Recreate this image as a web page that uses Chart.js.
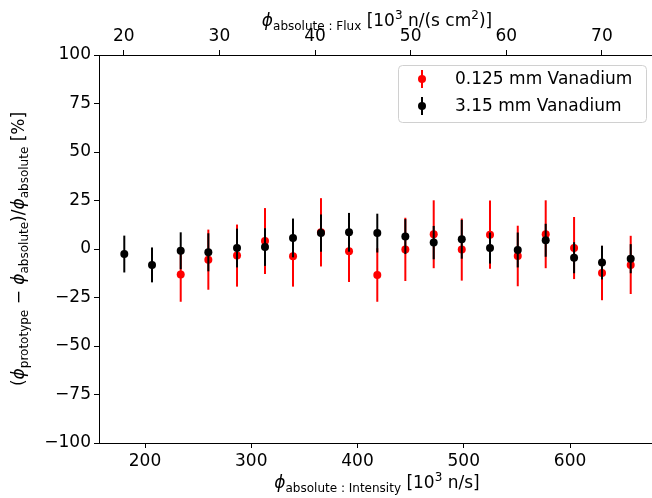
<!DOCTYPE html>
<html lang="en">
<head>
    <meta charset="UTF-8">
    <title>Prototype vs absolute flux</title>
    <script src="https://cdn.jsdelivr.net/npm/chart.js"></script>
    <style>
        body { margin: 0; overflow: hidden; background: #fff; }
        #chartWrap { width: 660px; height: 498px; }
    </style>
</head>
<body>

    <div id="chartWrap"><canvas id="errChart" width="660" height="498"></canvas></div>

    <script type='text/javascript'>
    // intensity values [10^3 n/s] of the measurement points
    const intensity = [180.5, 206.6, 233.6, 259.6, 286.6, 312.9, 339.3, 365.6, 392.0, 418.6,
                       445.0, 471.7, 498.1, 524.7, 550.8, 577.1, 603.8, 630.1, 657.1];

    // 0.125 mm Vanadium starts at the third point
    const thinLabel = '0.125 mm Vanadium';
    const thinVals = [-13.2, -5.5, -3.4, 4.1, -3.8, 8.6, -1.2, -13.4, -0.2, 7.6, -0.3, 7.4, -3.6, 7.6, 0.5, -12.4, -8.2];
    const thinErr  = [14.0, 15.5, 16.0, 17.0, 15.6, 17.6, 15.8, 13.8, 16.3, 17.5, 16.0, 17.6, 15.6, 17.5, 16.0, 14.0, 15.0];

    const thickLabel = '3.15 mm Vanadium';
    const thickVals = [-2.6, -8.2, -0.9, -1.7, 0.5, 1.0, 5.7, 8.2, 8.6, 8.2, 6.4, 3.3, 5.0, 0.5, -0.5, 4.5, -4.5, -7.0, -5.0];
    const thickErr  = [9.5, 9.0, 9.5, 9.8, 10.0, 9.7, 10.0, 9.6, 10.0, 10.0, 9.0, 8.6, 10.0, 8.0, 9.0, 8.5, 8.0, 8.7, 7.5];

    const yTicks = [-100, -75, -50, -25, 0, 25, 50, 75, 100];
    const fluxFactor = 9;          // intensity / flux
    const xMin = 156.7, xMax = 680.9;

    const FONT = "'DejaVu Sans', sans-serif";

    function points(xs, ys) {
        return ys.map((y, i) => ({ x: xs[i], y: y }));
    }

    // error bars, drawn just before each dataset's markers
    const errorBars = {
        id: 'errorBars',
        beforeDatasetDraw(chart, args) {
            const ds = chart.data.datasets[args.index];
            if (!ds.errors) return;
            const xs = chart.scales.x, ys = chart.scales.y, ctx = chart.ctx;
            ctx.save();
            ctx.strokeStyle = ds.borderColor;
            ctx.lineWidth = 2;
            ds.data.forEach((p, i) => {
                const px = xs.getPixelForValue(p.x);
                ctx.beginPath();
                ctx.moveTo(px, ys.getPixelForValue(p.y + ds.errors[i]));
                ctx.lineTo(px, ys.getPixelForValue(p.y - ds.errors[i]));
                ctx.stroke();
            });
            ctx.restore();
        }
    };

    // text with sub/superscripts, segments: [text, kind]
    function richText(ctx, segs, x, y) {
        const size = 17, small = 12;
        const parts = segs.map(([t, kind]) => {
            let font = size + 'px ' + FONT, dy = 0;
            if (kind === 'i') font = 'oblique ' + size + 'px ' + FONT;
            if (kind === 'sub') { font = small + 'px ' + FONT; dy = 4; }
            if (kind === 'sup') { font = small + 'px ' + FONT; dy = -7; }
            ctx.font = font;
            return { t, font, dy, w: ctx.measureText(t).width };
        });
        const total = parts.reduce((s, p) => s + p.w, 0);
        let cx = x - total / 2;
        ctx.textAlign = 'left';
        ctx.textBaseline = 'alphabetic';
        ctx.fillStyle = '#000';
        parts.forEach(p => {
            ctx.font = p.font;
            ctx.fillText(p.t, cx, y + p.dy);
            cx += p.w;
        });
    }

    const decorations = {
        id: 'decorations',
        afterDraw(chart) {
            const ctx = chart.ctx, area = chart.chartArea;
            const mid = 377;
            ctx.save();
            richText(ctx, [['\u03d5', 'i'], ['absolute : Intensity', 'sub'], [' [10', ''], ['3', 'sup'], [' n/s]', '']], mid, 488);
            richText(ctx, [['\u03d5', 'i'], ['absolute : Flux', 'sub'], [' [10', ''], ['3', 'sup'], [' n/(s cm', ''], ['2', 'sup'], [')]', '']], mid, 26);

            ctx.save();
            ctx.translate(24, (area.top + area.bottom) / 2);
            ctx.rotate(-Math.PI / 2);
            richText(ctx, [['(', ''], ['\u03d5', 'i'], ['prototype', 'sub'], [' \u2212 ', ''], ['\u03d5', 'i'], ['absolute', 'sub'],
                           [')/', ''], ['\u03d5', 'i'], ['absolute', 'sub'], [' [%]', '']], 0, 0);
            ctx.restore();

            // legend
            const lx = 398.5, ly = 65.5, lw = 248, lh = 57, r = 4;
            ctx.beginPath();
            ctx.moveTo(lx + r, ly);
            ctx.arcTo(lx + lw, ly, lx + lw, ly + lh, r);
            ctx.arcTo(lx + lw, ly + lh, lx, ly + lh, r);
            ctx.arcTo(lx, ly + lh, lx, ly, r);
            ctx.arcTo(lx, ly, lx + lw, ly, r);
            ctx.closePath();
            ctx.fillStyle = 'rgba(255,255,255,0.8)';
            ctx.fill();
            ctx.strokeStyle = '#d0d0d0';
            ctx.lineWidth = 1;
            ctx.stroke();

            const order = [1, 0];
            order.forEach((di, k) => {
                const ds = chart.data.datasets[di];
                const cy = 79 + k * 27;
                ctx.strokeStyle = ds.borderColor;
                ctx.lineWidth = 2;
                ctx.beginPath();
                ctx.moveTo(422, cy - 9);
                ctx.lineTo(422, cy + 9);
                ctx.stroke();
                ctx.fillStyle = ds.backgroundColor;
                ctx.beginPath();
                ctx.arc(422, cy, 4, 0, Math.PI * 2);
                ctx.fill();
                ctx.fillStyle = '#000';
                ctx.font = '17px ' + FONT;
                ctx.textAlign = 'left';
                ctx.textBaseline = 'middle';
                ctx.fillText(ds.label, 455, cy + 1);
            });
            ctx.restore();
        }
    };

    const minus = v => (v < 0 ? '\u2212' + Math.abs(v) : '' + v);

    const ctx = document.getElementById('errChart').getContext('2d');
    new Chart(ctx, {
        type: 'scatter',
        data: {
            datasets: [{
                label: thickLabel,
                data: points(intensity, thickVals),
                errors: thickErr,
                backgroundColor: '#000000',
                borderColor: '#000000',
                pointRadius: 4,
                pointBorderWidth: 0,
                order: 1
            }, {
                label: thinLabel,
                data: points(intensity.slice(2), thinVals),
                errors: thinErr,
                backgroundColor: '#ff0000',
                borderColor: '#ff0000',
                pointRadius: 4,
                pointBorderWidth: 0,
                order: 2
            }]
        },
        options: {
            responsive: false,
            animation: false,
            layout: { padding: { left: 0, right: 4, top: 0, bottom: 0 } },
            plugins: { legend: { display: false }, tooltip: { enabled: false } },
            scales: {
                x: {
                    type: 'linear', position: 'bottom', min: xMin, max: xMax,
                    afterFit: s => { s.height = 55; },
                    grid: { drawOnChartArea: false, tickLength: 5, color: '#000' },
                    border: { color: '#000', width: 1 },
                    ticks: { stepSize: 100, includeBounds: false, padding: 3, color: '#000', font: { family: FONT, size: 17 }, maxRotation: 0 }
                },
                x2: {
                    type: 'linear', position: 'top', min: xMin / fluxFactor, max: xMax / fluxFactor,
                    afterFit: s => { s.height = 55; },
                    grid: { drawOnChartArea: false, tickLength: 5, color: '#000' },
                    border: { color: '#000', width: 1 },
                    ticks: { stepSize: 10, includeBounds: false, padding: 3, color: '#000', font: { family: FONT, size: 17 }, maxRotation: 0 }
                },
                y: {
                    min: -100, max: 100,
                    afterFit: s => { s.width = 99; },
                    afterBuildTicks: s => { s.ticks = yTicks.map(v => ({ value: v })); },
                    grid: { drawOnChartArea: false, tickLength: 5, color: '#000' },
                    border: { color: '#000', width: 1 },
                    ticks: { padding: 3, color: '#000', font: { family: FONT, size: 17 }, callback: minus }
                }
            }
        },
        plugins: [errorBars, decorations]
    });
    </script>

</body></html>
